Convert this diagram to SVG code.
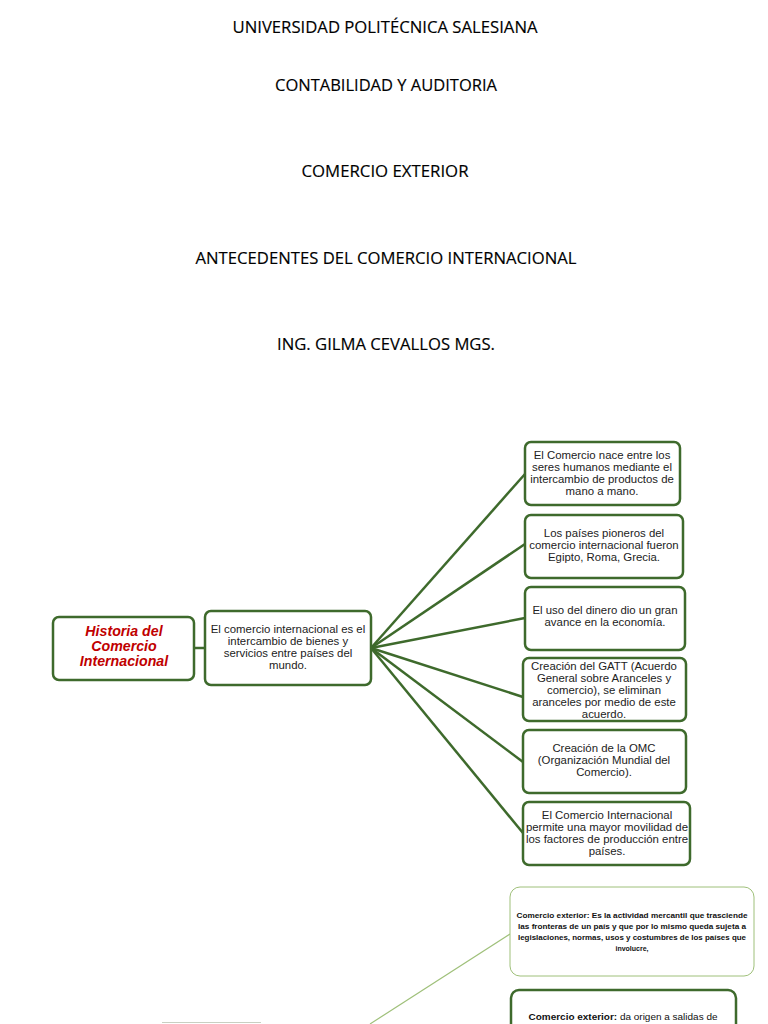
<svg xmlns="http://www.w3.org/2000/svg" width="768" height="1024" viewBox="0 0 768 1024">
<style>
.title{font-family:"Open Sans","Liberation Sans",sans-serif;font-size:15.5px;fill:#000;stroke:#000;stroke-width:0.15;text-anchor:middle}
.box{fill:#fff;stroke:#3e6a2c;stroke-width:2.5}
.lbox{fill:#fff;stroke:#9fc07a;stroke-width:1}
.t{font-family:"Liberation Sans",Arial,sans-serif;font-size:11.4px;fill:#222;text-anchor:middle}
.red{font-family:"Liberation Sans",Arial,sans-serif;font-size:14.2px;font-weight:bold;font-style:italic;fill:#c00000;text-anchor:middle}
.s{font-family:"Liberation Sans",Arial,sans-serif;font-size:7px;font-weight:bold;fill:#111;text-anchor:middle}
.conn{stroke:#3e6a2c;stroke-width:2.5;fill:none}
</style>
<rect width="768" height="1024" fill="#fff"/>
<g id="titles">
<text class="title" x="385" y="33" textLength="305" lengthAdjust="spacingAndGlyphs">UNIVERSIDAD POLITÉCNICA SALESIANA</text>
<text class="title" x="386" y="91" textLength="222" lengthAdjust="spacingAndGlyphs">CONTABILIDAD Y AUDITORIA</text>
<text class="title" x="385" y="177" textLength="167" lengthAdjust="spacingAndGlyphs">COMERCIO EXTERIOR</text>
<text class="title" x="386" y="264" textLength="381" lengthAdjust="spacingAndGlyphs">ANTECEDENTES DEL COMERCIO INTERNACIONAL</text>
<text class="title" x="386" y="350" textLength="218" lengthAdjust="spacingAndGlyphs">ING. GILMA CEVALLOS MGS.</text>
</g>
<g id="connectors">
<line class="conn" x1="194" y1="648" x2="205" y2="648"/>
<line class="conn" x1="371" y1="648" x2="525" y2="474"/>
<line class="conn" x1="371" y1="648" x2="525" y2="544"/>
<line class="conn" x1="371" y1="648" x2="525" y2="618"/>
<line class="conn" x1="371" y1="648" x2="523" y2="697"/>
<line class="conn" x1="371" y1="648" x2="523" y2="762"/>
<line class="conn" x1="371" y1="648" x2="523" y2="833"/>
<line x1="510" y1="934" x2="370" y2="1024" stroke="#9fc07a" stroke-width="1.2"/>
</g>
<g id="historia">
<rect class="box" x="53" y="617" width="141" height="63" rx="6"/>
<text class="red" x="124" y="636">Historia del</text>
<text class="red" x="124" y="651">Comercio</text>
<text class="red" x="124" y="666">Internacional</text>
</g>
<g id="definicion">
<rect class="box" x="205" y="611" width="166" height="74" rx="6"/>
<text class="t" x="288" y="633">El comercio internacional es el</text>
<text class="t" x="288" y="645">intercambio de bienes y</text>
<text class="t" x="288" y="657">servicios entre países del</text>
<text class="t" x="288" y="669">mundo.</text>
</g>
<g id="n1">
<rect class="box" x="525" y="442" width="155" height="63" rx="6"/>
<text class="t" x="602" y="459">El Comercio nace entre los</text>
<text class="t" x="602" y="471">seres humanos mediante el</text>
<text class="t" x="602" y="483">intercambio de productos de</text>
<text class="t" x="602" y="495">mano a mano.</text>
</g>
<g id="n2">
<rect class="box" x="525" y="515" width="158" height="63" rx="6"/>
<text class="t" x="604" y="537">Los países pioneros del</text>
<text class="t" x="604" y="549">comercio internacional fueron</text>
<text class="t" x="604" y="561">Egipto, Roma, Grecia.</text>
</g>
<g id="n3">
<rect class="box" x="525" y="587" width="160" height="63" rx="6"/>
<text class="t" x="605" y="614">El uso del dinero dio un gran</text>
<text class="t" x="605" y="626">avance en la economía.</text>
</g>
<g id="n4">
<rect class="box" x="523" y="658" width="163" height="63" rx="6"/>
<text class="t" x="604" y="670">Creación del GATT (Acuerdo</text>
<text class="t" x="604" y="682">General sobre Aranceles y</text>
<text class="t" x="604" y="694">comercio), se eliminan</text>
<text class="t" x="604" y="706">aranceles por medio de este</text>
<text class="t" x="604" y="718">acuerdo.</text>
</g>
<g id="n5">
<rect class="box" x="523" y="730" width="163" height="63" rx="6"/>
<text class="t" x="604" y="752">Creación  de la OMC</text>
<text class="t" x="604" y="764">(Organización Mundial del</text>
<text class="t" x="604" y="776">Comercio).</text>
</g>
<g id="n6">
<rect class="box" x="523" y="802" width="167" height="63" rx="6"/>
<text class="t" x="607" y="819">El Comercio Internacional</text>
<text class="t" x="607" y="831">permite una mayor movilidad de</text>
<text class="t" x="607" y="843">los factores de producción entre</text>
<text class="t" x="607" y="855">países.</text>
</g>
<g id="ce1">
<rect class="lbox" x="510" y="887" width="244" height="89" rx="10"/>
<text class="s" x="632" y="918" textLength="231" lengthAdjust="spacingAndGlyphs">Comercio exterior: Es la actividad mercantil que trasciende</text>
<text class="s" x="632" y="929" textLength="228" lengthAdjust="spacingAndGlyphs">las fronteras de un país y que por lo mismo queda sujeta a</text>
<text class="s" x="632" y="940" textLength="228" lengthAdjust="spacingAndGlyphs">legislaciones, normas, usos y costumbres de los países que</text>
<text class="s" x="632" y="951">involucre,</text>
</g>
<g id="ce2">
<rect class="box" x="511" y="990" width="225" height="50" rx="8"/>
<text x="623" y="1020" font-family="Liberation Sans, Arial, sans-serif" font-size="9px" fill="#111" text-anchor="middle" textLength="189" lengthAdjust="spacingAndGlyphs"><tspan font-weight="bold">Comercio exterior:</tspan>  da origen a salidas de</text>
</g>
<g id="partial">
<line x1="162" y1="1022.5" x2="261" y2="1022.5" stroke="#c9cfc2" stroke-width="1.2"/>
</g>
</svg>
